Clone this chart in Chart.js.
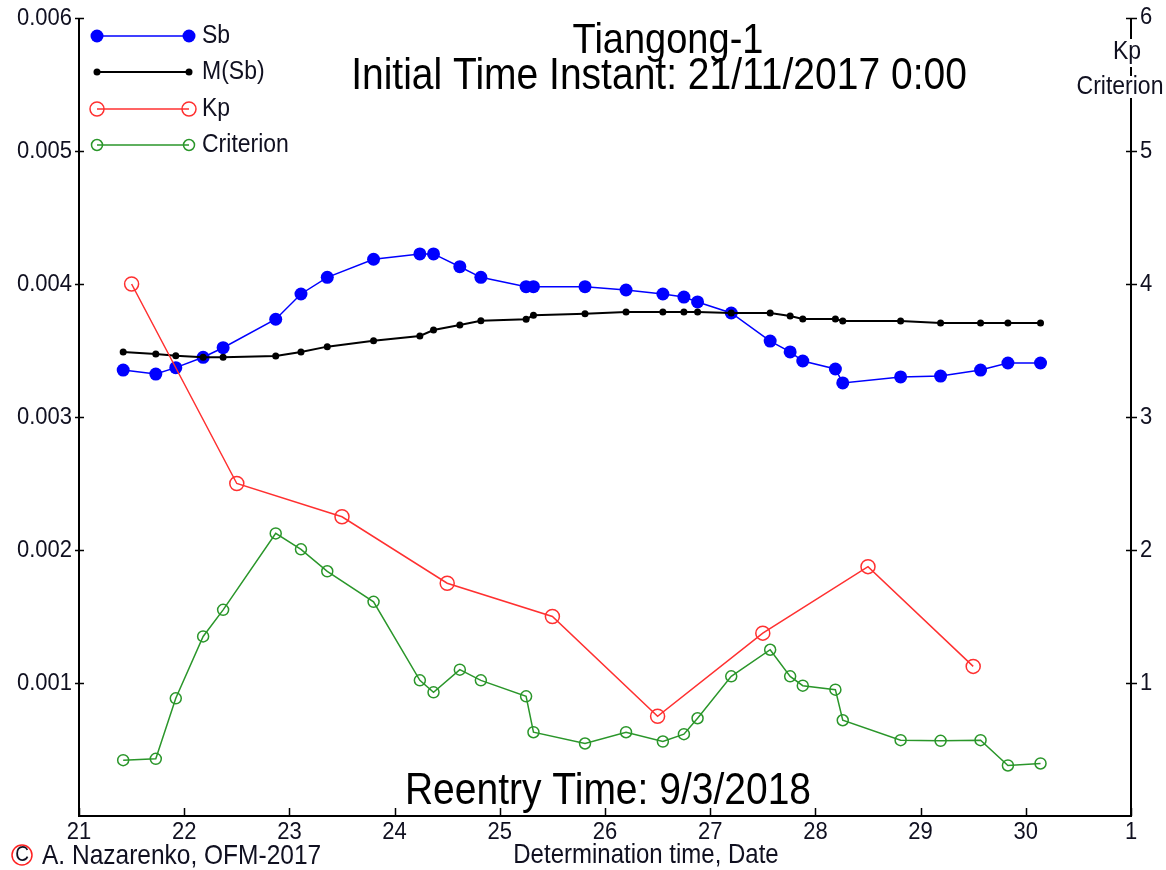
<!DOCTYPE html>
<html>
<head>
<meta charset="utf-8">
<title>Tiangong-1</title>
<script src="https://cdn.jsdelivr.net/npm/chart.js@4.4.1/dist/chart.umd.min.js"></script>
<style>
  html, body { margin: 0; padding: 0; background: #fff; }
  #wrap { width: 1166px; height: 870px; position: relative; }
</style>
</head>
<body>
<div id="wrap"><canvas id="chart" width="1166" height="870"></canvas></div>
<script>
// ── DATA ──
const sbDays = [21.42, 21.73, 21.92, 22.18, 22.37, 22.87, 23.11, 23.36, 23.80, 24.24,
                24.37, 24.62, 24.82, 25.25, 25.32, 25.81, 26.20, 26.55, 26.75, 26.88,
                27.20, 27.57, 27.76, 27.88, 28.19, 28.26, 28.81, 29.19, 29.57, 29.83, 30.14];

const sbValues = [0.003353, 0.003323, 0.003371, 0.003449, 0.003521, 0.003735, 0.003925,
                  0.004050, 0.004186, 0.004226, 0.004226, 0.004130, 0.004050, 0.003980,
                  0.003980, 0.003980, 0.003955, 0.003925, 0.003902, 0.003865, 0.003782,
                  0.003571, 0.003489, 0.003421, 0.003361, 0.003256, 0.003301, 0.003308,
                  0.003353, 0.003406, 0.003406];

const msbValues = [0.003489, 0.003474, 0.003461, 0.003449, 0.003449, 0.003459, 0.003489,
                   0.003529, 0.003574, 0.003609, 0.003654, 0.003692, 0.003724, 0.003735,
                   0.003765, 0.003776, 0.003789, 0.003789, 0.003789, 0.003789, 0.003782,
                   0.003782, 0.003759, 0.003737, 0.003737, 0.003722, 0.003722, 0.003707,
                   0.003707, 0.003707, 0.003707];

const criterionValues = [0.42, 0.43, 0.885, 1.35, 1.55, 2.125, 2.005, 1.84, 1.61, 1.02,
                         0.93, 1.10, 1.02, 0.90, 0.63, 0.545, 0.63, 0.56, 0.615, 0.735,
                         1.05, 1.25, 1.05, 0.98, 0.95, 0.72, 0.57, 0.565, 0.57, 0.38, 0.395];

const kpDays   = [21.5, 22.5, 23.5, 24.5, 25.5, 26.5, 27.5, 28.5, 29.5];
const kpValues = [4.0, 2.5, 2.25, 1.75, 1.5, 0.75, 1.375, 1.875, 1.125];

const xTickValues = [21, 22, 23, 24, 25, 26, 27, 28, 29, 30, 31];
const xTickLabels = ['21', '22', '23', '24', '25', '26', '27', '28', '29', '30', '1'];
const leftTickValues = [0.001, 0.002, 0.003, 0.004, 0.005, 0.006];
const leftTickLabels = ['0.001', '0.002', '0.003', '0.004', '0.005', '0.006'];
const rightTickValues = [1, 2, 3, 4, 5, 6];
const rightTickLabels = ['1', '2', '3', '4', '5', '6'];

// ── COLORS ──
const COLORS = {
  sb:    '#0000ff',
  msb:   '#000000',
  kp:    '#ff3030',
  crit:  '#2a962a',
  text:  '#101020',
};

const FONT = "'Liberation Sans', Arial, sans-serif";

const pts = (xs, ys) => xs.map((x, i) => ({ x, y: ys[i] }));

// text helper, glyphs a bit taller than wide like the original
function drawText(ctx, txt, x, y, size, align, color) {
  ctx.save();
  ctx.translate(x, y);
  ctx.scale(1, 1.12);
  ctx.font = size + 'px ' + FONT;
  ctx.textAlign = align;
  ctx.textBaseline = 'middle';
  ctx.fillStyle = color || COLORS.text;
  ctx.fillText(txt, 0, 0);
  ctx.restore();
}

// ── DECORATIONS: axes, ticks, titles, legend, footer ──
const decorPlugin = {
  id: 'decor',
  afterDatasetsDraw(chart) {
    const { ctx, chartArea: a, scales } = chart;
    const x = scales.x, yl = scales.y, yr = scales.y1;

    ctx.save();
    ctx.strokeStyle = '#000';
    ctx.lineWidth = 2;
    ctx.beginPath();
    ctx.moveTo(a.left, a.top); ctx.lineTo(a.left, a.bottom);
    ctx.lineTo(a.right, a.bottom); ctx.lineTo(a.right, a.top);
    ctx.stroke();

    ctx.lineWidth = 1.5;
    ctx.beginPath();
    leftTickValues.forEach(v => {
      const py = Math.round(yl.getPixelForValue(v)) + 0.5;
      ctx.moveTo(a.left - 4, py); ctx.lineTo(a.left + 5, py);
    });
    rightTickValues.forEach(v => {
      const py = Math.round(yr.getPixelForValue(v)) + 0.5;
      ctx.moveTo(a.right - 5, py); ctx.lineTo(a.right + 6, py);
    });
    xTickValues.forEach(v => {
      const px = Math.round(x.getPixelForValue(v)) + 0.5;
      ctx.moveTo(px, a.bottom); ctx.lineTo(px, a.bottom - 8);
    });
    ctx.stroke();
    ctx.restore();

    leftTickValues.forEach((v, i) =>
      drawText(ctx, leftTickLabels[i], a.left - 7, yl.getPixelForValue(v), 22, 'right'));
    rightTickValues.forEach((v, i) =>
      drawText(ctx, rightTickLabels[i], a.right + 9, yr.getPixelForValue(v) - (v === 6 ? 1 : 0), 22, 'left'));
    xTickValues.forEach((v, i) =>
      drawText(ctx, xTickLabels[i], x.getPixelForValue(v), a.bottom + 16, 22, 'center'));

    // right axis title sits on the axis line
    ctx.fillStyle = '#fff';
    ctx.fillRect(a.right - 16, 39, 30, 28);
    ctx.fillRect(a.right - 50, 76, 90, 22);
    drawText(ctx, 'Kp', a.right - 4, 52, 23, 'center');
    drawText(ctx, 'Criterion', a.right - 11, 87, 23, 'center');

    // titles
    drawText(ctx, 'Tiangong-1', 668, 41, 38, 'center', '#000');
    drawText(ctx, 'Initial Time Instant: 21/11/2017 0:00', 659, 77, 39, 'center', '#000');
    drawText(ctx, 'Reentry Time: 9/3/2018', 608, 792, 39, 'center', '#000');

    // legend
    const legend = [
      { label: 'Sb',        color: COLORS.sb,   r: 6.5, fill: true,  y: 36 },
      { label: 'M(Sb)',     color: COLORS.msb,  r: 3.5, fill: true,  y: 72 },
      { label: 'Kp',        color: COLORS.kp,   r: 7,   fill: false, y: 109 },
      { label: 'Criterion', color: COLORS.crit, r: 5.5, fill: false, y: 145 },
    ];
    legend.forEach(it => {
      ctx.save();
      ctx.strokeStyle = it.color;
      ctx.fillStyle = it.color;
      ctx.lineWidth = it.label === 'M(Sb)' ? 2 : 1.5;
      ctx.beginPath();
      ctx.moveTo(97, it.y); ctx.lineTo(189, it.y);
      ctx.stroke();
      [97, 189].forEach(cx => {
        ctx.beginPath();
        ctx.arc(cx, it.y, it.r, 0, Math.PI * 2);
        if (it.fill) ctx.fill(); else { ctx.lineWidth = 1.5; ctx.stroke(); }
      });
      ctx.restore();
      drawText(ctx, it.label, 202, it.y, 23, 'left');
    });

    // footer
    ctx.save();
    ctx.strokeStyle = '#ff2020';
    ctx.lineWidth = 1.5;
    ctx.beginPath();
    ctx.arc(22, 855, 10, 0, Math.PI * 2);
    ctx.stroke();
    ctx.restore();
    drawText(ctx, 'C', 22, 855, 19, 'center');
    drawText(ctx, 'A. Nazarenko, OFM-2017', 42, 856, 24.5, 'left');
    drawText(ctx, 'Determination time, Date', 646, 856, 24, 'center');
  }
};

const ctx = document.getElementById('chart').getContext('2d');

new Chart(ctx, {
  type: 'scatter',
  data: {
    datasets: [
      {
        label: 'Sb',
        data: pts(sbDays, sbValues),
        yAxisID: 'y',
        showLine: true,
        borderColor: COLORS.sb,
        backgroundColor: COLORS.sb,
        borderWidth: 1.5,
        pointRadius: 6.5,
        pointBorderWidth: 0,
        order: 4,
      },
      {
        label: 'M(Sb)',
        data: pts(sbDays, msbValues),
        yAxisID: 'y',
        showLine: true,
        borderColor: COLORS.msb,
        backgroundColor: COLORS.msb,
        borderWidth: 2,
        pointRadius: 3.5,
        pointBorderWidth: 0,
        order: 3,
      },
      {
        label: 'Kp',
        data: pts(kpDays, kpValues),
        yAxisID: 'y1',
        showLine: true,
        borderColor: COLORS.kp,
        backgroundColor: 'rgba(0,0,0,0)',
        borderWidth: 1.5,
        pointRadius: 7,
        pointBorderWidth: 1.5,
        order: 2,
      },
      {
        label: 'Criterion',
        data: pts(sbDays, criterionValues),
        yAxisID: 'y1',
        showLine: true,
        borderColor: COLORS.crit,
        backgroundColor: 'rgba(0,0,0,0)',
        borderWidth: 1.5,
        pointRadius: 5.5,
        pointBorderWidth: 1.5,
        order: 1,
      },
    ],
  },
  options: {
    responsive: false,
    animation: false,
    layout: { padding: { top: 18, left: 0, right: 0, bottom: 0 } },
    plugins: {
      legend:  { display: false },
      tooltip: { enabled: false },
    },
    scales: {
      x: {
        type: 'linear',
        min: 21, max: 31,
        grid: { display: false },
        border: { display: false },
        ticks: { display: false },
        afterFit: s => { s.height = 54; },
      },
      y: {
        position: 'left',
        min: 0, max: 0.006,
        grid: { display: false },
        border: { display: false },
        ticks: { display: false },
        afterFit: s => { s.width = 79; },
      },
      y1: {
        position: 'right',
        min: 0, max: 6,
        grid: { display: false },
        border: { display: false },
        ticks: { display: false },
        afterFit: s => { s.width = 35; },
      },
    },
  },
  plugins: [decorPlugin],
});
</script>
</body>
</html>
